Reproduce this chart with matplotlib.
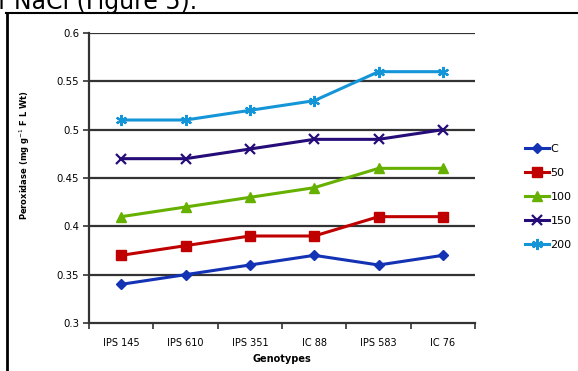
import matplotlib.pyplot as plt
from matplotlib.lines import Line2D

genotypes = ["IPS 145", "IPS 610", "IPS 351", "IC 88", "IPS 583", "IC 76"]
series_names = ["C", "50", "100", "150", "200"]
c_vals = [0.34, 0.35, 0.36, 0.37, 0.36, 0.37]
v50 = [0.37, 0.38, 0.39, 0.39, 0.41, 0.41]
v100 = [0.41, 0.42, 0.43, 0.44, 0.46, 0.46]
v150 = [0.47, 0.47, 0.48, 0.49, 0.49, 0.50]
v200 = [0.51, 0.51, 0.52, 0.53, 0.56, 0.56]
yticks = [0.3, 0.35, 0.4, 0.45, 0.5, 0.55, 0.6]
ytick_labels = ["0.3", "0.35", "0.4", "0.45", "0.5", "0.55", "0.6"]

colors = ["#1432b4", "#c00000", "#66b000", "#260c78", "#1495d8"]
markers = ["D", "s", "^", "x", (6, 2, 0)]
msizes = [5, 6.5, 6.5, 6.5, 8]

fig = plt.figure(figsize=(5.78, 3.71), dpi=100)
ax = fig.add_axes([0.154, 0.1294, 0.668, 0.7816])

x = list(range(len(genotypes)))
for name, vals, col, mk, ms in zip(series_names, [c_vals, v50, v100, v150, v200],
                                   colors, markers, msizes):
    ax.plot(x, vals, color=col, lw=2.2, marker=mk, markersize=ms,
            markeredgewidth=1.6 if mk in ("x", (6, 2, 0)) else 1,
            markeredgecolor=col, label=name, zorder=3)

ax.set_ylim(0.3, 0.6)
ax.set_yticks(yticks)
ax.set_yticklabels(ytick_labels, fontsize=7.3)
ax.set_xlim(-0.5, len(genotypes) - 0.5)
ax.set_xticks([i - 0.5 for i in range(len(genotypes) + 1)])
ax.set_xticklabels([])
ax.set_xticks(x, minor=True)
ax.set_xticklabels(genotypes, minor=True, fontsize=7)
ax.tick_params(axis="x", which="minor", length=0, pad=11)
ax.tick_params(axis="x", which="major", length=4, width=1.2, color="#333333")
ax.tick_params(axis="y", length=4, width=1.2, color="#333333", pad=3)

for yv in yticks[1:]:
    ax.axhline(yv, color="#333333", lw=1.6, zorder=1)
for s in ["top", "right"]:
    ax.spines[s].set_visible(False)
for s in ["left", "bottom"]:
    ax.spines[s].set_color("#333333")
    ax.spines[s].set_linewidth(1.6)

ax.set_xlabel("Genotypes", fontsize=7, fontweight="bold", labelpad=4)
ax.set_ylabel("Peroxidase (mg g$^{-1}$ F L Wt)", fontsize=6, fontweight="bold")
ax.yaxis.set_label_coords(-0.147, 0.58)

ax.legend(loc="center left", bbox_to_anchor=(515 / 578, 1 - 197 / 371),
          bbox_transform=fig.transFigure, frameon=False,
          fontsize=8, handlelength=2.2, handletextpad=0.1, labelspacing=1.25)

# surrounding box of the page figure
fig.add_artist(Line2D([6 / 578, 1.0], [1 - 13 / 371, 1 - 13 / 371], color="black", lw=1.5))
fig.add_artist(Line2D([7 / 578, 7 / 578], [0, 1 - 13 / 371], color="black", lw=2))
fig.text(-0.003, 1 - 9 / 371, "f NaCl (Figure 5).", fontsize=17, va="baseline", ha="left")

fig.savefig("out.png", dpi=100)
